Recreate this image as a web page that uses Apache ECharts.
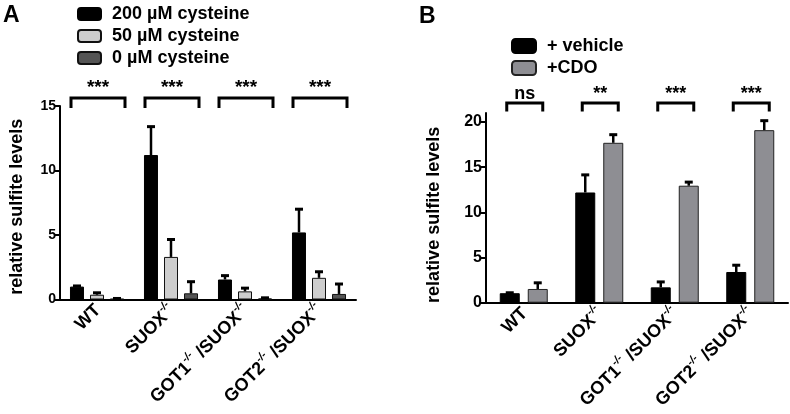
<!DOCTYPE html>
<html>
<head>
<meta charset="utf-8">
<script src="https://cdn.jsdelivr.net/npm/echarts@6/dist/echarts.min.js"></script>
<style>html,body{margin:0;padding:0;background:#fff}#c{width:790px;height:414px}</style>
</head>
<body>
<div id="c"></div>
<script>
// ---- data ----
const categories = ['WT', 'SUOX-/-', 'GOT1-/- /SUOX-/-', 'GOT2-/- /SUOX-/-'];
const namesA = ['200 µM cysteine', '50 µM cysteine', '0 µM cysteine'];
const a200 = [1.0, 11.2, 1.55, 5.2];
const a200Err = [1.05, 13.4, 1.85, 7.0];
const a50 = [0.37, 3.3, 0.63, 1.68];
const a50Err = [0.52, 4.65, 0.88, 2.15];
const a0 = [0.05, 0.48, 0.08, 0.43];
const a0Err = [0.08, 1.38, 0.13, 1.2];
const namesB = ['+ vehicle', '+CDO'];
const bVehicle = [1.05, 12.2, 1.7, 3.4];
const bVehicleErr = [1.1, 14.15, 2.3, 4.15];
const bCDO = [1.52, 17.7, 12.95, 19.1];
const bCDOErr = [2.2, 18.6, 13.35, 20.15];
const sigA = ['***', '***', '***', '***'];
const sigB = ['ns', '**', '***', '***'];
const yTicksA = [0, 5, 10, 15];
const yTicksB = [0, 5, 10, 15, 20];
const yMaxA = 15, yMaxB = 21;

const FONT = 'Liberation Sans, Arial, Helvetica, sans-serif';

function fmt(v) {
  const parts = v.split('-/-');
  return parts.map((p, i) => (p ? '{m|' + p + '}' : '') + (i < parts.length - 1 ? '{s|-/-}' : '')).join('');
}
const labelRich = {
  m: { fontSize: 18, fontWeight: 'bold', fontFamily: FONT, color: '#000', lineHeight: 21, verticalAlign: 'bottom' },
  s: { fontSize: 11, fontWeight: 'bold', fontStyle: 'italic', fontFamily: FONT, color: '#000', lineHeight: 10, verticalAlign: 'top' }
};

function errRender(offset) {
  return function (params, api) {
    const c = api.value(0), v = api.value(1), u = api.value(2);
    const p0 = api.coord([c, v]);
    const p1 = api.coord([c, u]);
    const x = p0[0] + offset;
    return {
      type: 'group',
      children: [
        { type: 'line', shape: { x1: x, y1: p0[1], x2: x, y2: p1[1] }, style: { stroke: '#000', lineWidth: 2.5 } },
        { type: 'line', shape: { x1: x - 4, y1: p1[1], x2: x + 4, y2: p1[1] }, style: { stroke: '#000', lineWidth: 3 } }
      ]
    };
  };
}
function bracketRender(sig, ymax, half, above, leg, textGap, fs) {
  return function (params, api) {
    const p = api.coord([api.value(0), ymax]);
    const x = p[0] + 1, y = p[1] - above;
    return {
      type: 'group',
      children: [
        { type: 'polyline', shape: { points: [[x - half, y + leg], [x - half, y], [x + half, y], [x + half, y + leg]] },
          style: { stroke: '#000', lineWidth: 3, fill: null } },
        { type: 'text', style: { text: sig[params.dataIndex], x: x, y: y - textGap, align: 'center', verticalAlign: 'bottom',
          fontSize: fs, fontWeight: 'bold', fontFamily: FONT, fill: '#000' } }
      ]
    };
  };
}

const axisLineStyle = { lineStyle: { color: '#000', width: 2 } };
const yLabel = (fs) => ({ color: '#000', fontSize: fs, fontWeight: 'bold', fontFamily: FONT, margin: 4 });

const chart = echarts.init(document.getElementById('c'), null, { renderer: 'canvas' });
const option = {
  animation: false,
  backgroundColor: '#fff',
  graphic: [
    { type: 'text', left: 3, top: 4, style: { text: 'A', fontSize: 23, fontWeight: 'bold', fontFamily: FONT, fill: '#000' } },
    { type: 'text', left: 419, top: 5, style: { text: 'B', fontSize: 23, fontWeight: 'bold', fontFamily: FONT, fill: '#000' } }
  ],
  legend: [
    { data: namesA, orient: 'vertical', left: 72, top: 0, itemWidth: 23, itemHeight: 12, itemGap: 4, icon: 'roundRect',
      textStyle: { fontSize: 18, fontWeight: 'bold', fontFamily: FONT, color: '#000', lineHeight: 17, padding: [0, 0, 0, 6] } },
    { data: namesB, orient: 'vertical', left: 506, top: 32, itemWidth: 24, itemHeight: 14, itemGap: 4, icon: 'roundRect',
      textStyle: { fontSize: 18, fontWeight: 'bold', fontFamily: FONT, color: '#000', lineHeight: 17, padding: [0, 0, 0, 6] } }
  ],
  grid: [
    { left: 60, width: 296, top: 106, height: 193.5 },
    { left: 486, width: 302, top: 113, height: 189.7 }
  ],
  xAxis: [
    { type: 'category', gridIndex: 0, data: categories, axisLine: axisLineStyle,
      axisTick: { alignWithLabel: true, length: 5, lineStyle: { color: '#000', width: 2 } },
      axisLabel: { rotate: 45, margin: 7, interval: 0, formatter: fmt, rich: labelRich, color: '#000' } },
    { type: 'category', gridIndex: 1, data: categories, axisLine: axisLineStyle,
      axisTick: { alignWithLabel: true, length: 5, lineStyle: { color: '#000', width: 2 } },
      axisLabel: { rotate: 45, margin: 7, interval: 0, formatter: fmt, rich: labelRich, color: '#000' } }
  ],
  yAxis: [
    { type: 'value', gridIndex: 0, min: 0, max: yMaxA, interval: 5, splitLine: { show: false },
      axisLine: Object.assign({ show: true }, axisLineStyle),
      axisTick: { show: true, length: 5, lineStyle: { color: '#000', width: 2 }, customValues: yTicksA },
      axisLabel: Object.assign(yLabel(14), { customValues: yTicksA }),
      name: 'relative sulfite levels', nameLocation: 'middle', nameGap: 34,
      nameTextStyle: { fontSize: 18, fontWeight: 'bold', fontFamily: FONT, color: '#000', padding: [0, 8, 0, 0] } },
    { type: 'value', gridIndex: 1, min: 0, max: yMaxB, interval: 5, splitLine: { show: false },
      axisLine: Object.assign({ show: true }, axisLineStyle),
      axisTick: { show: true, length: 5, lineStyle: { color: '#000', width: 2 }, customValues: yTicksB },
      axisLabel: Object.assign(yLabel(16), { customValues: yTicksB }),
      name: 'relative sulfite levels', nameLocation: 'middle', nameGap: 43,
      nameTextStyle: { fontSize: 18, fontWeight: 'bold', fontFamily: FONT, color: '#000', padding: [0, 14, 0, 0] } }
  ],
  series: [
    { name: namesA[0], type: 'bar', xAxisIndex: 0, yAxisIndex: 0, data: a200, barWidth: 14, barGap: '43%',
      itemStyle: { color: '#000', borderColor: '#000', borderWidth: 1 } },
    { name: namesA[1], type: 'bar', xAxisIndex: 0, yAxisIndex: 0, data: a50, barWidth: 14, barGap: '43%',
      itemStyle: { color: '#cdcdcd', borderColor: '#111', borderWidth: 1 } },
    { name: namesA[2], type: 'bar', xAxisIndex: 0, yAxisIndex: 0, data: a0, barWidth: 14, barGap: '43%',
      itemStyle: { color: '#555555', borderColor: '#111', borderWidth: 1 } },
    { type: 'custom', xAxisIndex: 0, yAxisIndex: 0, clip: false, z: 3, renderItem: errRender(-20),
      data: categories.map((c, i) => [i, a200[i], a200Err[i]]) },
    { type: 'custom', xAxisIndex: 0, yAxisIndex: 0, clip: false, z: 3, renderItem: errRender(0),
      data: categories.map((c, i) => [i, a50[i], a50Err[i]]) },
    { type: 'custom', xAxisIndex: 0, yAxisIndex: 0, clip: false, z: 3, renderItem: errRender(20),
      data: categories.map((c, i) => [i, a0[i], a0Err[i]]) },
    { type: 'custom', xAxisIndex: 0, yAxisIndex: 0, clip: false, z: 3,
      renderItem: bracketRender(sigA, yMaxA, 27, 8, 10, 1, 19),
      data: categories.map((c, i) => [i, yMaxA]) },

    { name: namesB[0], type: 'bar', xAxisIndex: 1, yAxisIndex: 1, data: bVehicle, barWidth: 20, barGap: '40%',
      itemStyle: { color: '#000', borderColor: '#000', borderWidth: 1 } },
    { name: namesB[1], type: 'bar', xAxisIndex: 1, yAxisIndex: 1, data: bCDO, barWidth: 20, barGap: '40%',
      itemStyle: { color: '#8e8e93', borderColor: '#222', borderWidth: 1 } },
    { type: 'custom', xAxisIndex: 1, yAxisIndex: 1, clip: false, z: 3, renderItem: errRender(-14),
      data: categories.map((c, i) => [i, bVehicle[i], bVehicleErr[i]]) },
    { type: 'custom', xAxisIndex: 1, yAxisIndex: 1, clip: false, z: 3, renderItem: errRender(14),
      data: categories.map((c, i) => [i, bCDO[i], bCDOErr[i]]) },
    { type: 'custom', xAxisIndex: 1, yAxisIndex: 1, clip: false, z: 3,
      renderItem: bracketRender(sigB, yMaxB, 18, 10, 8.5, 0, 18),
      data: categories.map((c, i) => [i, yMaxB]) }
  ]
};
chart.setOption(option);
</script>
</body>
</html>
